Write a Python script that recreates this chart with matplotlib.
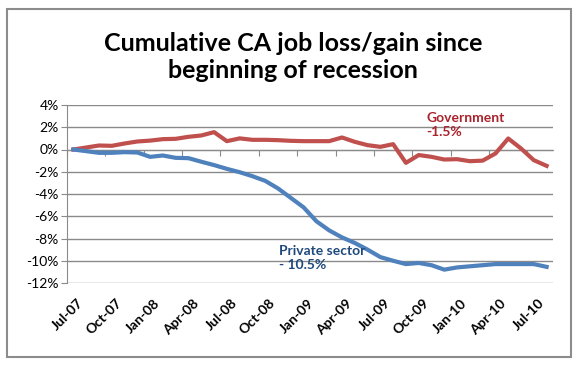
import matplotlib
matplotlib.use("Agg")
import matplotlib.pyplot as plt
import matplotlib.transforms as mtransforms
from matplotlib.patches import Rectangle
import numpy as np

months = ["Jul-07", "Aug-07", "Sep-07", "Oct-07", "Nov-07", "Dec-07",
          "Jan-08", "Feb-08", "Mar-08", "Apr-08", "May-08", "Jun-08",
          "Jul-08", "Aug-08", "Sep-08", "Oct-08", "Nov-08", "Dec-08",
          "Jan-09", "Feb-09", "Mar-09", "Apr-09", "May-09", "Jun-09",
          "Jul-09", "Aug-09", "Sep-09", "Oct-09", "Nov-09", "Dec-09",
          "Jan-10", "Feb-10", "Mar-10", "Apr-10", "May-10", "Jun-10",
          "Jul-10", "Aug-10"]

government = [0.0, 0.18, 0.36, 0.33, 0.54, 0.72, 0.80, 0.93, 0.96, 1.14,
              1.26, 1.56, 0.75, 1.00, 0.87, 0.87, 0.84, 0.78, 0.75, 0.75,
              0.75, 1.08, 0.69, 0.39, 0.24, 0.48, -1.20, -0.50, -0.66, -0.90,
              -0.87, -1.05, -1.00, -0.36, 0.99, 0.09, -0.96, -1.47]

private = [0.0, -0.15, -0.30, -0.30, -0.24, -0.27, -0.66, -0.54, -0.75, -0.78,
           -1.10, -1.40, -1.74, -2.04, -2.40, -2.82, -3.50, -4.35, -5.20, -6.45,
           -7.27, -7.90, -8.40, -9.00, -9.67, -10.00, -10.30, -10.20, -10.40, -10.80,
           -10.60, -10.50, -10.40, -10.30, -10.30, -10.30, -10.30, -10.55]

yticks = [4, 2, 0, -2, -4, -6, -8, -10, -12]
gov_label = "Government\n-1.5%"
priv_label = "Private sector\n- 10.5%"
title = "Cumulative CA job loss/gain since\nbeginning of recession"

W, H = 581, 366
fig = plt.figure(figsize=(W / 100, H / 100), dpi=100)
fig.patch.set_facecolor("white")

# outer chart border
fig.add_artist(Rectangle((7 / W, 1 - 357 / H), (571 - 7) / W, (357 - 9) / H,
                         transform=fig.transFigure, fill=False,
                         edgecolor="#8c8c8c", linewidth=1.5))

ax = fig.add_axes([67 / W, 1 - 283 / H, (553 - 67) / W, (283 - 105) / H])
x = np.arange(len(months))
grid_c = "#8a8a8a"

for v in yticks:
    ax.axhline(v, color=grid_c, linewidth=1.0, zorder=1)

ax.plot(x, government, color="#C0504D", linewidth=3.0, zorder=3,
        solid_joinstyle="round")
ax.plot(x, private, color="#4F81BD", linewidth=3.0, zorder=3,
        solid_joinstyle="round")

ax.set_xlim(-0.5, len(months) - 0.5)
ax.set_ylim(min(yticks), max(yticks))

for s in ["top", "right"]:
    ax.spines[s].set_visible(False)
ax.spines["left"].set_color(grid_c)
ax.spines["bottom"].set_color(grid_c)
ax.spines["bottom"].set_position(("data", 0))

ax.set_yticks(yticks)
ax.set_yticklabels([f"{v}%" for v in yticks], fontsize=10, family="Lato")
ax.tick_params(axis="y", length=4, color=grid_c, pad=2)

ax.set_xticks(np.arange(-0.5, len(months), 3))
ax.set_xticklabels([])
ax.tick_params(axis="x", length=4, color=grid_c, direction="out")

trans = mtransforms.blended_transform_factory(ax.transData, ax.transAxes)
offset = mtransforms.ScaledTranslation(0, -14 / 100, fig.dpi_scale_trans)
for i in range(0, len(months), 3):
    ax.text(i + 0.3, 0, months[i], transform=trans + offset, rotation=45,
            rotation_mode="anchor", ha="right", va="top", fontsize=10,
            family="Lato", fontweight="bold")

ax.text(27.6, 3.35, gov_label, color="#A8232B", fontsize=10, family="Lato",
        fontweight="bold", va="top", ha="left", linespacing=1.2)
ax.text(16.1, -8.6, priv_label, color="#1F497D", fontsize=10, family="Lato",
        fontweight="bold", va="top", ha="left", linespacing=1.2)

fig.text(0.505, 1 - 57 / H, title, ha="center", va="center", fontsize=18,
         family="Lato", fontweight="bold", linespacing=1.25)

fig.savefig("out.png", dpi=100)
